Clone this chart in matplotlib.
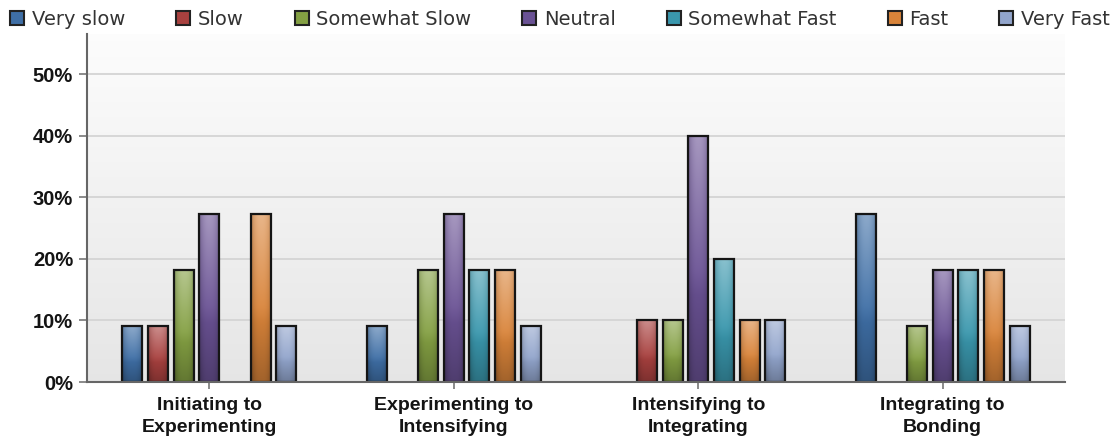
import numpy as np
import matplotlib
matplotlib.use("Agg")
import matplotlib.pyplot as plt
from matplotlib.patches import Rectangle
from matplotlib.colors import to_rgb
from matplotlib.lines import Line2D

plt.rcParams['font.family'] = ['Liberation Sans', 'DejaVu Sans']

categories = ["Initiating to\nExperimenting", "Experimenting to\nIntensifying",
              "Intensifying to\nIntegrating", "Integrating to\nBonding"]
series = ["Very slow", "Slow", "Somewhat Slow", "Neutral", "Somewhat Fast", "Fast", "Very Fast"]
values = {
    "Very slow":     [9.09, 9.09, 0.0, 27.27],
    "Slow":          [9.09, 0.0, 10.0, 0.0],
    "Somewhat Slow": [18.18, 18.18, 10.0, 9.09],
    "Neutral":       [27.27, 27.27, 40.0, 18.18],
    "Somewhat Fast": [0.0, 18.18, 20.0, 18.18],
    "Fast":          [27.27, 18.18, 10.0, 18.18],
    "Very Fast":     [9.09, 9.09, 10.0, 9.09],
}
yticks = [0, 10, 20, 30, 40, 50]
colors = ["#3f6fa6", "#a8413f", "#84a043", "#6a5294", "#3a97ad", "#d9843a", "#92a5cc"]

fig = plt.figure(figsize=(11.15, 4.42), dpi=100)
ax = fig.add_axes([87/1115, 1-382/442, (1065-87)/1115, (382-34)/442])

ncat = len(categories)
x = np.arange(ncat)
step = 0.105
bw = 0.082
ymax = 56.5
ax.set_xlim(-0.5, ncat - 0.5)
ax.set_ylim(0, ymax)

# background gradient: light gray at bottom -> near white at top
bg = np.linspace(0.90, 0.99, 256).reshape(-1, 1)
bg = np.repeat(bg[:, :, None], 3, axis=2)
ax.imshow(bg, extent=(-0.5, ncat - 0.5, 0, ymax), aspect='auto', zorder=0, origin='lower')

for yt in yticks[1:]:
    ax.axhline(yt, color="#d4d4d4", lw=1.3, zorder=1)

def bar_image(col):
    base = np.array(to_rgb(col))
    ny, nx = 64, 24
    t = np.linspace(0, 1, ny)[:, None]  # 0 bottom -> 1 top
    u = np.linspace(-1, 1, nx)[None, :]
    light = 0.40 * np.clip((t - 0.35) / 0.65, 0, 1)
    dark = 0.25 * np.clip((0.45 - t) / 0.45, 0, 1) + 0.22 * np.abs(u) ** 3
    img = np.empty((ny, nx, 3))
    for c in range(3):
        v = base[c] * (1 - dark)
        v = v + (1 - v) * light * (1 - 0.5 * np.abs(u) ** 2)
        img[:, :, c] = v
    return np.clip(img, 0, 1)

for i, s in enumerate(series):
    off = (i - 3) * step
    for j, v in enumerate(values[s]):
        if v <= 0:
            continue
        x0 = x[j] + off - bw / 2
        ax.imshow(bar_image(colors[i]), extent=(x0, x0 + bw, 0, v),
                  aspect='auto', origin='lower', zorder=3, interpolation='bilinear')
        ax.add_patch(Rectangle((x0, 0), bw, v, facecolor='none', edgecolor='#151515',
                               lw=1.6, zorder=4))

ax.set_xlim(-0.5, ncat - 0.5)
ax.set_ylim(0, ymax)
ax.set_yticks(yticks)
ax.set_yticklabels([f"{t}%" for t in yticks], fontweight='bold', fontsize=14.5, color='#141414')
ax.set_xticks(x)
ax.set_xticklabels(categories, fontweight='bold', fontsize=14, color='#141414', linespacing=1.4)
ax.tick_params(axis='y', length=6, width=1.2, color='#777777', pad=4)
ax.tick_params(axis='x', length=5, width=1.2, color='#777777', pad=6)
for side in ['top', 'right']:
    ax.spines[side].set_visible(False)
for side in ['left', 'bottom']:
    ax.spines[side].set_color('#666666')
    ax.spines[side].set_linewidth(1.5)
    ax.spines[side].set_zorder(5)

handles = [Line2D([0], [0], marker='s', linestyle='none', markersize=10,
                  markerfacecolor=c, markeredgecolor='#222222', markeredgewidth=1.5)
           for c in colors]
fig.legend(handles, series, loc='center left', bbox_to_anchor=(10/1115, 1 - 19.5/442), ncol=7,
           frameon=False, handlelength=0.77, handletextpad=0.36,
           columnspacing=2.6, labelcolor='#333333', borderpad=0, borderaxespad=0,
           prop={'family': ['DejaVu Sans'], 'size': 14})

fig.savefig("out.png", dpi=100)
